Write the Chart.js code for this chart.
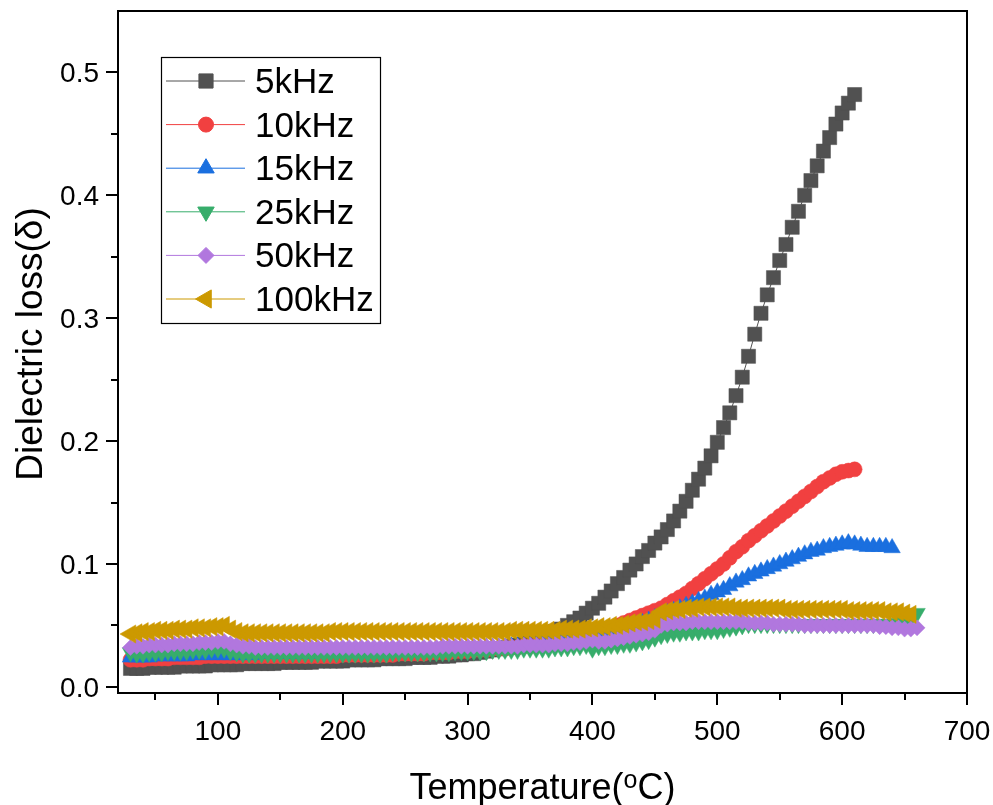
<!DOCTYPE html>
<html>
<head>
<meta charset="utf-8">
<script src="https://cdn.jsdelivr.net/npm/chart.js@4.4.1/dist/chart.umd.min.js"></script>
<style>
  html, body { margin: 0; background: #fff; }
  #wrap { width: 993px; height: 805px; }
</style>
</head>
<body>
<div id="wrap"><canvas id="myChart" width="993" height="805"></canvas></div>
<script>
// temperatures (degC) shared by all series, one point every 5 degrees
const temps = [30,35,40,45,50,55,60,65,70,75,80,85,90,95,100,105,110,115,120,125,
  130,135,140,145,150,155,160,165,170,175,180,185,190,195,200,205,210,215,220,225,
  230,235,240,245,250,255,260,265,270,275,280,285,290,295,300,305,310,315,320,325,
  330,335,340,345,350,355,360,365,370,375,380,385,390,395,400,405,410,415,420,425,
  430,435,440,445,450,455,460,465,470,475,480,485,490,495,500,505,510,515,520,525,
  530,535,540,545,550,555,560,565,570,575,580,585,590,595,600,605,610,615,620,625,
  630,635,640,645,650,655,660];

const freqLabels = ['5kHz', '10kHz', '15kHz', '25kHz', '50kHz', '100kHz'];

const loss5k = [
  0.015,0.015,0.015,0.016,0.016,0.016,0.016,0.016,0.017,0.017,
  0.017,0.017,0.017,0.018,0.018,0.018,0.018,0.018,0.019,0.019,
  0.019,0.019,0.019,0.019,0.020,0.020,0.020,0.020,0.020,0.020,
  0.021,0.021,0.021,0.021,0.021,0.022,0.022,0.022,0.022,0.022,
  0.023,0.023,0.023,0.023,0.023,0.024,0.024,0.024,0.024,0.025,
  0.025,0.025,0.026,0.026,0.027,0.027,0.028,0.029,0.030,0.031,
  0.032,0.033,0.034,0.035,0.036,0.038,0.040,0.042,0.045,0.047,
  0.050,0.053,0.056,0.060,0.064,0.068,0.073,0.078,0.084,0.089,
  0.095,0.100,0.106,0.111,0.117,0.122,0.128,0.135,0.143,0.151,
  0.160,0.169,0.178,0.188,0.199,0.211,0.223,0.237,0.252,0.269,
  0.287,0.304,0.319,0.333,0.347,0.360,0.374,0.387,0.400,0.412,
  0.424,0.436,0.447,0.458,0.467,0.475,0.482];

const loss10k = [
  0.022,0.022,0.022,0.023,0.023,0.023,0.023,0.024,0.024,0.024,
  0.024,0.024,0.025,0.025,0.025,0.025,0.025,0.025,0.025,0.025,
  0.025,0.025,0.025,0.025,0.025,0.025,0.025,0.025,0.025,0.025,
  0.025,0.025,0.025,0.025,0.026,0.026,0.026,0.026,0.026,0.026,
  0.026,0.026,0.026,0.027,0.027,0.027,0.027,0.027,0.028,0.028,
  0.028,0.028,0.029,0.029,0.029,0.030,0.030,0.030,0.031,0.031,
  0.031,0.032,0.032,0.033,0.033,0.034,0.035,0.036,0.037,0.038,
  0.039,0.040,0.041,0.042,0.043,0.044,0.046,0.048,0.050,0.052,
  0.054,0.056,0.058,0.060,0.062,0.064,0.067,0.070,0.073,0.076,
  0.080,0.084,0.088,0.092,0.096,0.100,0.105,0.110,0.114,0.119,
  0.123,0.127,0.131,0.135,0.139,0.143,0.147,0.151,0.155,0.159,
  0.163,0.167,0.170,0.173,0.175,0.176,0.177];

const loss15k = [
  0.024,0.024,0.024,0.024,0.025,0.025,0.025,0.025,0.025,0.025,
  0.026,0.026,0.026,0.026,0.026,0.026,0.026,0.026,0.026,0.026,
  0.026,0.027,0.027,0.027,0.027,0.027,0.027,0.027,0.027,0.027,
  0.028,0.028,0.028,0.028,0.028,0.028,0.028,0.028,0.028,0.029,
  0.029,0.029,0.029,0.029,0.029,0.029,0.030,0.030,0.030,0.030,
  0.030,0.030,0.031,0.031,0.031,0.031,0.031,0.032,0.032,0.032,
  0.032,0.033,0.033,0.033,0.034,0.034,0.035,0.035,0.036,0.037,
  0.038,0.038,0.039,0.040,0.041,0.042,0.043,0.044,0.046,0.047,
  0.049,0.050,0.052,0.054,0.056,0.058,0.060,0.062,0.064,0.066,
  0.068,0.070,0.072,0.075,0.077,0.079,0.082,0.085,0.087,0.090,
  0.092,0.094,0.096,0.098,0.100,0.102,0.104,0.106,0.108,0.110,
  0.111,0.113,0.114,0.115,0.116,0.117,0.116,0.115,0.114,0.114,
  0.114,0.114,0.113];

const loss25k = [
  0.028,0.027,0.027,0.028,0.028,0.028,0.029,0.029,0.029,0.029,
  0.030,0.030,0.030,0.031,0.031,0.031,0.029,0.028,0.027,0.027,
  0.027,0.027,0.027,0.027,0.027,0.027,0.027,0.027,0.027,0.027,
  0.027,0.027,0.027,0.027,0.027,0.027,0.027,0.027,0.027,0.027,
  0.027,0.027,0.028,0.028,0.028,0.028,0.028,0.028,0.028,0.028,
  0.028,0.028,0.029,0.029,0.029,0.029,0.029,0.029,0.030,0.030,
  0.030,0.030,0.030,0.031,0.031,0.031,0.031,0.031,0.032,0.032,
  0.032,0.033,0.033,0.034,0.031,0.033,0.033,0.034,0.034,0.035,
  0.035,0.036,0.037,0.038,0.040,0.042,0.043,0.044,0.044,0.045,
  0.045,0.045,0.046,0.046,0.046,0.047,0.048,0.049,0.050,0.051,
  0.051,0.051,0.051,0.051,0.051,0.051,0.051,0.051,0.051,0.051,
  0.051,0.051,0.051,0.051,0.051,0.051,0.051,0.051,0.051,0.051,
  0.051,0.051,0.051,0.052,0.053,0.056,0.060];

const loss50k = [
  0.032,0.033,0.033,0.034,0.034,0.034,0.034,0.035,0.035,0.035,
  0.035,0.036,0.036,0.036,0.037,0.037,0.035,0.034,0.033,0.033,
  0.032,0.032,0.032,0.032,0.032,0.032,0.032,0.032,0.032,0.032,
  0.032,0.032,0.032,0.032,0.032,0.032,0.032,0.032,0.032,0.032,
  0.032,0.032,0.032,0.032,0.032,0.032,0.032,0.032,0.032,0.032,
  0.033,0.033,0.033,0.033,0.033,0.033,0.033,0.033,0.033,0.033,
  0.033,0.033,0.033,0.034,0.034,0.034,0.034,0.034,0.035,0.035,
  0.035,0.036,0.036,0.037,0.038,0.037,0.037,0.038,0.039,0.040,
  0.041,0.042,0.043,0.044,0.046,0.050,0.051,0.052,0.052,0.052,
  0.053,0.053,0.053,0.053,0.053,0.053,0.053,0.053,0.053,0.052,
  0.052,0.052,0.052,0.051,0.051,0.051,0.051,0.051,0.050,0.050,
  0.050,0.050,0.050,0.050,0.050,0.050,0.050,0.050,0.050,0.050,
  0.049,0.049,0.048,0.048,0.047,0.047,0.048];

const loss100k = [
  0.043,0.044,0.045,0.045,0.046,0.046,0.046,0.047,0.047,0.047,
  0.048,0.048,0.048,0.049,0.049,0.050,0.047,0.045,0.044,0.044,
  0.044,0.044,0.044,0.044,0.044,0.044,0.044,0.044,0.044,0.044,
  0.044,0.044,0.045,0.045,0.045,0.045,0.045,0.045,0.045,0.045,
  0.045,0.045,0.045,0.045,0.045,0.045,0.045,0.045,0.045,0.045,
  0.045,0.045,0.045,0.045,0.045,0.045,0.045,0.045,0.045,0.045,
  0.045,0.046,0.046,0.046,0.046,0.046,0.046,0.046,0.046,0.047,
  0.047,0.047,0.047,0.048,0.048,0.049,0.049,0.050,0.050,0.051,
  0.052,0.053,0.053,0.054,0.055,0.061,0.062,0.063,0.063,0.064,
  0.064,0.065,0.065,0.065,0.065,0.065,0.065,0.064,0.064,0.064,
  0.064,0.064,0.064,0.064,0.064,0.063,0.063,0.063,0.063,0.063,
  0.063,0.063,0.063,0.063,0.063,0.062,0.062,0.062,0.062,0.062,
  0.062,0.061,0.061,0.061,0.060,0.059];

// axis ticks
const xTicks = [100, 200, 300, 400, 500, 600, 700];
const xMinorTicks = [50, 150, 250, 350, 450, 550, 650];
const yTicks = [0, 0.1, 0.2, 0.3, 0.4, 0.5];
const yTickLabels = ['0.0', '0.1', '0.2', '0.3', '0.4', '0.5'];
const yMinorTicks = [0.05, 0.15, 0.25, 0.35, 0.45];

const colors = ['#515151', '#F14040', '#1A6FDF', '#37AD6B', '#B177DE', '#CC9900'];
const markers = [
  { pointStyle: 'rect', rotation: 0, radius: 10 },
  { pointStyle: 'circle', rotation: 0, radius: 7.5 },
  { pointStyle: 'triangle', rotation: 0, radius: 9.5 },
  { pointStyle: 'triangle', rotation: 180, radius: 9.5 },
  { pointStyle: 'rectRot', rotation: 0, radius: 8 },
  { pointStyle: 'triangle', rotation: -90, radius: 10.5 }
];
const allLoss = [loss5k, loss10k, loss15k, loss25k, loss50k, loss100k];

const FONT = "'Liberation Sans', Arial, sans-serif";

function toPoints(vals) {
  return vals.map((v, i) => ({ x: temps[i], y: v }));
}

const datasets = allLoss.map((vals, k) => ({
  label: freqLabels[k],
  data: toPoints(vals),
  borderColor: colors[k],
  backgroundColor: colors[k],
  borderWidth: 1,
  pointStyle: markers[k].pointStyle,
  pointRotation: markers[k].rotation,
  pointRadius: markers[k].radius,
  pointBorderWidth: 0.5,
  pointBorderColor: colors[k],
  pointBackgroundColor: colors[k],
  tension: 0,
  order: 5 - k   // later frequencies painted on top, as in the original
}));

// frame, ticks, tick labels, axis titles and the boxed legend
const decorations = {
  id: 'decorations',
  afterDraw(chart) {
    const ctx = chart.ctx;
    const a = chart.chartArea;
    const xs = chart.scales.x, ys = chart.scales.y;
    ctx.save();
    ctx.strokeStyle = '#000';
    ctx.fillStyle = '#000';
    ctx.lineWidth = 2;
    ctx.strokeRect(a.left, a.top, a.right - a.left, a.bottom - a.top);

    ctx.beginPath();
    xTicks.forEach(t => { const px = Math.round(xs.getPixelForValue(t)); ctx.moveTo(px, a.bottom); ctx.lineTo(px, a.bottom + 12); });
    xMinorTicks.forEach(t => { const px = Math.round(xs.getPixelForValue(t)); ctx.moveTo(px, a.bottom); ctx.lineTo(px, a.bottom + 7); });
    yTicks.forEach(t => { const py = Math.round(ys.getPixelForValue(t)); ctx.moveTo(a.left, py); ctx.lineTo(a.left - 12, py); });
    yMinorTicks.forEach(t => { const py = Math.round(ys.getPixelForValue(t)); ctx.moveTo(a.left, py); ctx.lineTo(a.left - 7, py); });
    ctx.stroke();

    ctx.font = '28px ' + FONT;
    ctx.textAlign = 'center';
    ctx.textBaseline = 'alphabetic';
    xTicks.forEach(t => ctx.fillText(String(t), xs.getPixelForValue(t), 740));
    ctx.textAlign = 'right';
    yTicks.forEach((t, i) => ctx.fillText(yTickLabels[i], 99, ys.getPixelForValue(t) + 10));

    // y title
    ctx.save();
    ctx.translate(42, 344);
    ctx.rotate(-Math.PI / 2);
    ctx.textAlign = 'center';
    ctx.font = '37px ' + FONT;
    ctx.fillText('Dielectric loss(\u03B4)', 0, 0);
    ctx.restore();

    // x title with superscript o
    ctx.textAlign = 'left';
    const big = '36px ' + FONT, small = '25px ' + FONT;
    ctx.font = big; const w1 = ctx.measureText('Temperature(').width; const w3 = ctx.measureText('C)').width;
    ctx.font = small; const w2 = ctx.measureText('o').width;
    let tx = (a.left + a.right) / 2 - (w1 + w2 + w3) / 2;
    ctx.font = big; ctx.fillText('Temperature(', tx, 799); tx += w1;
    ctx.font = small; ctx.fillText('o', tx, 788); tx += w2;
    ctx.font = big; ctx.fillText('C)', tx, 799);

    // legend
    ctx.lineWidth = 1.2;
    ctx.strokeRect(161.5, 57.5, 219, 266);
    ctx.font = '35px ' + FONT;
    freqLabels.forEach((lab, k) => {
      const ry = 81 + k * 43.6;
      ctx.strokeStyle = colors[k];
      ctx.fillStyle = colors[k];
      ctx.lineWidth = 1;
      ctx.beginPath(); ctx.moveTo(166, ry); ctx.lineTo(245, ry); ctx.stroke();
      Chart.helpers.drawPoint(ctx, {
        pointStyle: markers[k].pointStyle, rotation: markers[k].rotation,
        radius: markers[k].radius, borderWidth: 0.5
      }, 206, ry);
      ctx.fillStyle = '#000';
      ctx.fillText(lab, 255, ry + 12);
    });
    ctx.restore();
  }
};

new Chart(document.getElementById('myChart'), {
  type: 'line',
  data: { datasets: datasets },
  options: {
    responsive: false,
    animation: false,
    devicePixelRatio: 1,
    events: [],
    layout: { padding: { top: 11, right: 26, left: 0, bottom: 0 } },
    plugins: { legend: { display: false }, tooltip: { enabled: false } },
    scales: {
      x: {
        type: 'linear', min: 20, max: 700,
        grid: { display: false }, border: { display: false },
        ticks: { display: false },
        afterFit: s => { s.height = 112; }
      },
      y: {
        type: 'linear', min: -0.005, max: 0.55,
        grid: { display: false }, border: { display: false },
        ticks: { display: false },
        afterFit: s => { s.width = 118; }
      }
    }
  },
  plugins: [decorations]
});
</script>
</body>
</html>
